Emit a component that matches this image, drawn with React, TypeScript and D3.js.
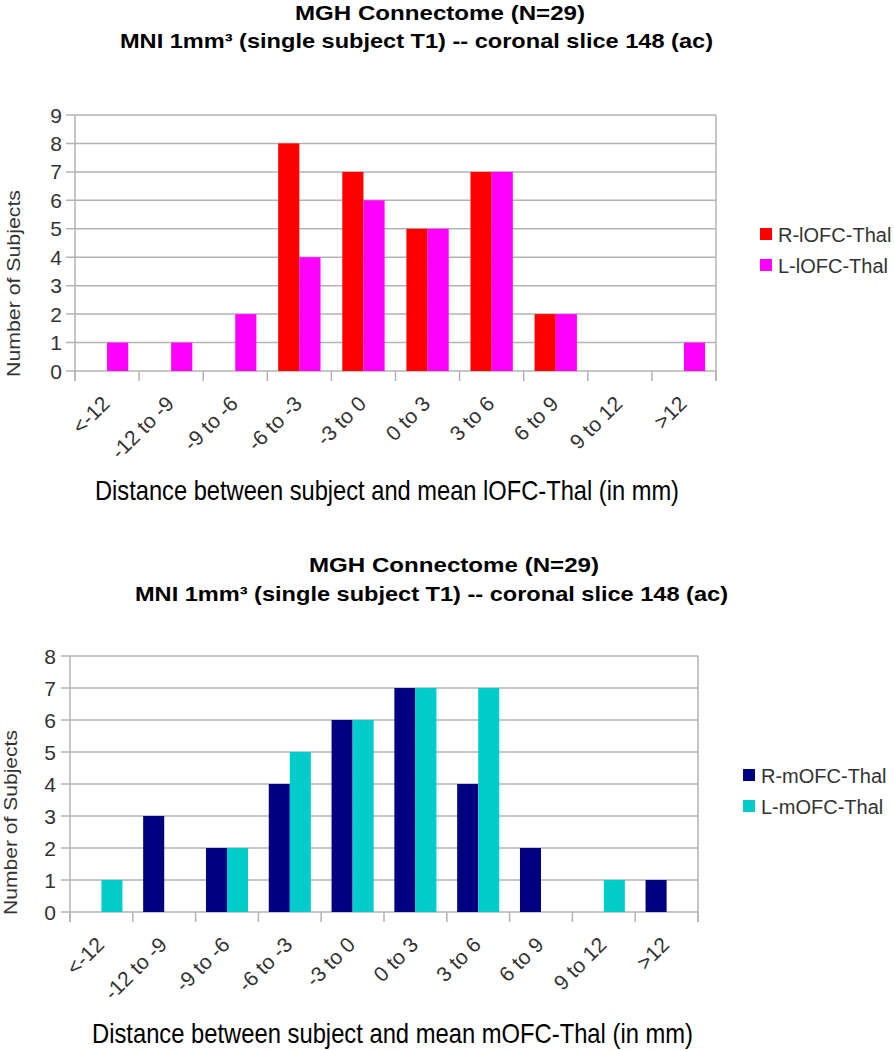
import React from "react";
import * as d3 from "d3";

const categories = ["<-12", "-12 to -9", "-9 to -6", "-6 to -3", "-3 to 0", "0 to 3", "3 to 6", "6 to 9", "9 to 12", ">12"];

const rLofc = [0, 0, 0, 8, 7, 5, 7, 2, 0, 0];
const lLofc = [1, 1, 2, 4, 6, 5, 7, 2, 0, 1];
const rMofc = [0, 3, 2, 4, 6, 7, 4, 2, 0, 1];
const lMofc = [1, 0, 2, 5, 6, 7, 7, 0, 1, 0];

const topTicks = [0, 1, 2, 3, 4, 5, 6, 7, 8, 9];
const bottomTicks = [0, 1, 2, 3, 4, 5, 6, 7, 8];

const titleLine1 = "MGH Connectome (N=29)";
const titleLine2 = "MNI 1mm\u00B3 (single subject T1) -- coronal slice 148 (ac)";
const yTitle = "Number of Subjects";
const topXTitle = "Distance between subject and mean lOFC-Thal (in mm)";
const bottomXTitle = "Distance between subject and mean mOFC-Thal (in mm)";
const topSeriesNames = ["R-lOFC-Thal", "L-lOFC-Thal"];
const bottomSeriesNames = ["R-mOFC-Thal", "L-mOFC-Thal"];

const FONT = "'Liberation Sans', Arial, Helvetica, sans-serif";
const GRID = "#b3b3b3";

type Layout = {
  plotL: number; plotR: number; plotT: number; plotB: number;
  yMax: number; ticks: number[]; yLabelX: number;
  t1: [number, number, number]; t2: [number, number, number];
  yt: [number, number, number]; xt: [number, number, number];
  legend: [number, number]; pad: number;
  series: number[][]; names: string[]; colors: string[]; xTitle: string;
};

function Panel({ L }: { L: Layout }) {
  const x = d3.scaleBand<string>().domain(categories).range([L.plotL, L.plotR]).paddingInner(L.pad).paddingOuter(L.pad / 2);
  const xs = d3.scaleBand<number>().domain(d3.range(L.series.length)).range([0, x.bandwidth()]);
  const y = d3.scaleLinear().domain([0, L.yMax]).range([L.plotB, L.plotT]);
  const step = x.step();
  const boundaries = d3.range(categories.length + 1).map((i) => L.plotL + i * step);
  return (
    <g>
      <text x={(L.t1[0] + L.t1[1]) / 2} y={L.t1[2]} textAnchor="middle" fontFamily={FONT} fontWeight="bold" fontSize={21} textLength={L.t1[1] - L.t1[0]} lengthAdjust="spacingAndGlyphs" fill="#000">{titleLine1}</text>
      <text x={(L.t2[0] + L.t2[1]) / 2} y={L.t2[2]} textAnchor="middle" fontFamily={FONT} fontWeight="bold" fontSize={21} textLength={L.t2[1] - L.t2[0]} lengthAdjust="spacingAndGlyphs" fill="#000">{titleLine2}</text>
      {L.ticks.map((t) => (
        <g key={t}>
          <line x1={L.plotL - 9} x2={L.plotR} y1={y(t)} y2={y(t)} stroke={GRID} strokeWidth={1.5} />
          <text x={L.yLabelX} y={y(t)} dy="0.36em" textAnchor="end" fontFamily={FONT} fontSize={21} fill="#333">{t}</text>
        </g>
      ))}
      <line x1={L.plotL} x2={L.plotL} y1={L.plotT} y2={L.plotB + 10} stroke={GRID} strokeWidth={1.5} />
      <line x1={L.plotR} x2={L.plotR} y1={L.plotT} y2={L.plotB + 10} stroke={GRID} strokeWidth={1.5} />
      {boundaries.map((bx, i) => (
        <line key={i} x1={bx} x2={bx} y1={L.plotB} y2={L.plotB + 10} stroke={GRID} strokeWidth={1.5} />
      ))}
      {categories.map((c, ci) => (
        <g key={c}>
          {L.series.map((s, si) => (
            <rect key={si} x={(x(c) as number) + (xs(si) as number)} y={y(s[ci])} width={xs.bandwidth()} height={L.plotB - y(s[ci])} fill={L.colors[si]} />
          ))}
        </g>
      ))}
      {categories.map((c) => {
        const cx = (x(c) as number) + x.bandwidth() / 2 + 4;
        const cy = L.plotB + 34;
        return (
          <text key={c} transform={`translate(${cx},${cy}) rotate(-45)`} textAnchor="end" fontFamily={FONT} fontSize={21} fill="#333">{c}</text>
        );
      })}
      <text transform={`translate(${L.yt[0]},${(L.yt[1] + L.yt[2]) / 2}) rotate(-90)`} textAnchor="middle" fontFamily={FONT} fontSize={19} textLength={L.yt[2] - L.yt[1]} lengthAdjust="spacingAndGlyphs" fill="#333">{yTitle}</text>
      <text x={(L.xt[0] + L.xt[1]) / 2} y={L.xt[2]} textAnchor="middle" fontFamily={FONT} fontSize={28} textLength={L.xt[1] - L.xt[0]} lengthAdjust="spacingAndGlyphs" fill="#000">{L.xTitle}</text>
      {L.names.map((n, i) => (
        <g key={n}>
          <rect x={L.legend[0]} y={L.legend[1] + i * 31} width={12} height={12} fill={L.colors[i]} />
          <text x={L.legend[0] + 18} y={L.legend[1] + i * 31 + 13.5} fontFamily={FONT} fontSize={20} fill="#333">{n}</text>
        </g>
      ))}
    </g>
  );
}

const topLayout: Layout = {
  plotL: 75, plotR: 716, plotT: 115, plotB: 371, yMax: 9, ticks: topTicks, yLabelX: 62,
  t1: [295, 585, 20], t2: [120, 713, 48], yt: [20, 190, 377], xt: [95, 679, 500],
  legend: [760, 228], pad: 0.34, series: [rLofc, lLofc], names: topSeriesNames,
  colors: ["#ff0000", "#ff00ff"], xTitle: topXTitle,
};

const bottomLayout: Layout = {
  plotL: 70, plotR: 698, plotT: 656, plotB: 912, yMax: 8, ticks: bottomTicks, yLabelX: 56,
  t1: [309, 599, 572], t2: [135, 728, 601], yt: [17, 730, 915], xt: [92, 693, 1043],
  legend: [743, 769], pad: 0.33, series: [rMofc, lMofc], names: bottomSeriesNames,
  colors: ["#000080", "#00cccc"], xTitle: bottomXTitle,
};

export default function App() {
  return (
    <svg width={894} height={1050} style={{ position: "absolute", left: 0, top: 0, background: "#fff" }}>
      <rect width={894} height={1050} fill="#fff" />
      <Panel L={topLayout} />
      <Panel L={bottomLayout} />
    </svg>
  );
}
